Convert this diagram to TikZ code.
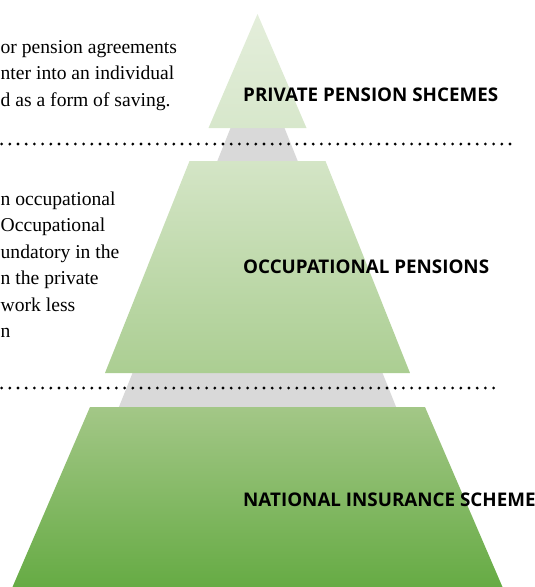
\documentclass[tikz,border=0pt]{standalone}
\usepackage{fontspec}
\setmainfont{Liberation Serif}
\newfontfamily\labelfont{Open Sans}
\definecolor{greyband}{HTML}{D9D9D9}
\definecolor{gA}{HTML}{E4EEDB}
\definecolor{gB}{HTML}{D7E7CB}
\definecolor{gC}{HTML}{D4E5C6}
\definecolor{gD}{HTML}{ABCE92}
\definecolor{gE}{HTML}{A3C787}
\definecolor{gF}{HTML}{66AB44}
\begin{document}
\begin{tikzpicture}[x=1pt,y=-1pt,
  lbl/.style={anchor=base west, inner sep=0pt, font=\labelfont\bfseries\fontsize{18.8}{20}\selectfont},
  body/.style={anchor=base west, inner sep=0pt, font=\fontsize{19.6}{24}\selectfont},
  dotline/.style={line width=3.1pt, dash pattern=on 0pt off 8.2pt, line cap=round}]
\useasboundingbox (0,0) rectangle (535,587);
\clip (0,0) rectangle (535,587);
% grey band behind
\fill[greyband] (231.3,126) -- (283.7,126) -- (396.9,409) -- (118.1,409) -- cycle;
% top triangle
\shade[top color=gA, bottom color=gB] (257.5,14) -- (306.5,128) -- (208.5,128) -- cycle;
% middle trapezoid
\shade[top color=gC, bottom color=gD] (189.5,161) -- (325.5,161) -- (410,373) -- (105,373) -- cycle;
% bottom trapezoid
\shade[top color=gE, bottom color=gF] (90,407) -- (425,407) -- (502.5,587) -- (12.5,587) -- cycle;
% dotted separators
\coordinate (d1s) at (1.6,144);
\coordinate (d1e) at (512,144);
\coordinate (d2s) at (1.6,388);
\coordinate (d2e) at (497,388);
\draw[dotline] (d1s) -- (d1e);
\draw[dotline] (d2s) -- (d2e);
% labels
\node[lbl] (private) at (243,101) {PRIVATE PENSION SHCEMES};
\node[lbl] (occup) at (243,273) {OCCUPATIONAL PENSIONS};
\node[lbl] (national) at (243,506) {NATIONAL INSURANCE SCHEME};
% left text block 1
\node[body] (t1a) at (0.5,53) {or pension agreements};
\node[body] (t1b) at (0.5,79.5) {nter into an individual};
\node[body] (t1c) at (0.5,106) {d as a form of saving.};
% left text block 2
\node[body] (t2a) at (0.5,205) {n occupational};
\node[body] (t2b) at (0.5,231.5) {Occupational};
\node[body] (t2c) at (0.5,258) {undatory in the};
\node[body] (t2d) at (0.5,284.5) {n the private};
\node[body] (t2e) at (0.5,311) {work less};
\node[body] (t2f) at (0.5,337.5) {n};
\end{tikzpicture}
\end{document}
